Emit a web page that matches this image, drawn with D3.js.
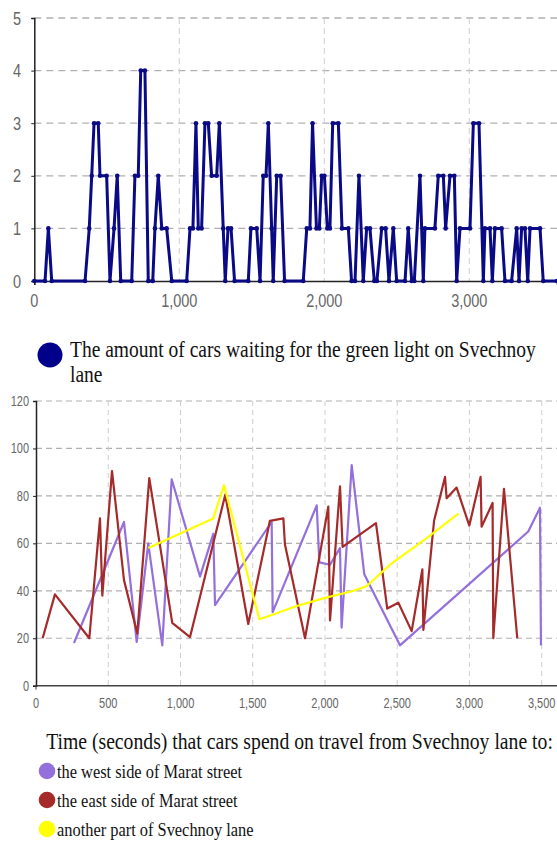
<!DOCTYPE html>
<html>
<head>
<meta charset="utf-8">
<script src="https://cdn.jsdelivr.net/npm/d3@7/dist/d3.min.js"></script>
<style>
  html, body { margin: 0; padding: 0; background: #fff; }
  svg { display: block; }
</style>
</head>
<body>
<svg id="chart" width="557" height="841"></svg>
<script>
// ---------- DATA ----------
// Top chart: cars waiting at green light (time in seconds, count)
const waitTimes  = [0, 74, 97, 120, 350, 379, 396, 412, 441, 453, 499, 522, 550, 572, 596, 672, 694, 717, 734, 763, 786, 817, 832, 855, 879, 913, 948, 1051, 1074, 1094, 1115, 1131, 1154, 1177, 1200, 1223, 1258, 1276, 1303, 1317, 1336, 1357, 1381, 1476, 1494, 1534, 1557, 1579, 1598, 1614, 1637, 1648, 1672, 1699, 1726, 1855, 1879, 1901, 1919, 1946, 1966, 1982, 2001, 2021, 2039, 2058, 2097, 2122, 2166, 2188, 2212, 2239, 2269, 2292, 2315, 2345, 2363, 2396, 2423, 2446, 2476, 2499, 2557, 2579, 2603, 2621, 2660, 2683, 2694, 2763, 2786, 2821, 2837, 2867, 2897, 2913, 2936, 3005, 3028, 3067, 3097, 3108, 3143, 3159, 3177, 3223, 3246, 3292, 3327, 3343, 3361, 3384, 3403, 3419, 3488, 3510, 3605];
const waitCounts = [0, 0, 1, 0, 0, 1, 2, 3, 3, 2, 2, 0, 1, 2, 0, 0, 2, 2, 4, 4, 0, 0, 1, 2, 1, 1, 0, 0, 1, 1, 3, 1, 1, 3, 3, 2, 2, 3, 1, 0, 1, 1, 0, 0, 1, 1, 0, 2, 2, 3, 1, 0, 2, 2, 0, 0, 1, 1, 3, 1, 1, 2, 2, 1, 1, 3, 3, 1, 1, 0, 0, 2, 0, 1, 1, 0, 0, 1, 1, 0, 1, 0, 0, 1, 0, 0, 2, 0, 1, 1, 2, 2, 1, 2, 2, 0, 1, 1, 3, 3, 0, 1, 1, 0, 1, 1, 0, 0, 1, 0, 1, 1, 0, 1, 1, 0, 0];
const waitXTicks = [0, 1000, 2000, 3000];
const waitYTicks = [0, 1, 2, 3, 4, 5];
const waitLegend = ["The amount of cars waiting for the green light on Svechnoy", "lane"];

// Bottom chart: travel time (departure time in seconds, travel time in seconds)
const westTimes  = [263, 609, 697, 777, 874, 939, 1135, 1227, 1239, 1631, 1638, 1943, 1961, 2035, 2104, 2115, 2185, 2272, 2519, 3407, 3488, 3495];
const westValues = [18, 69, 18.5, 60, 17, 87, 46, 64, 34, 69, 31, 76, 52, 51, 58, 24.5, 93, 47, 17, 65, 75, 17];
const eastTimes  = [46, 131, 369, 443, 459, 526, 609, 701, 784, 943, 1066, 1310, 1469, 1619, 1712, 1723, 1862, 2023, 2035, 2104, 2122, 2353, 2431, 2508, 2600, 2674, 2681, 2755, 2831, 2842, 2911, 2999, 3077, 3084, 3160, 3165, 3239, 3331];
const eastValues = [20, 38.5, 20, 70.5, 38, 90.5, 44.5, 22, 87.5, 26.5, 20.5, 80.5, 26, 69.5, 70.5, 59.5, 20, 75.5, 27.5, 84, 58.5, 68.5, 32.5, 35, 23, 49, 23.5, 69.5, 88, 79, 83.5, 67.5, 88, 67, 77, 20, 83, 20];
const otherTimes  = [777, 1227, 1301, 1546, 1640, 1800, 2000, 2200, 2290, 2450, 2700, 2923];
const otherValues = [58, 70.5, 84.5, 28, 30, 33.5, 37, 40, 42, 51, 62, 72.5];
const travelXTicks = [0, 500, 1000, 1500, 2000, 2500, 3000, 3500];
const travelYTicks = [0, 20, 40, 60, 80, 100, 120];
const travelTitle = "Time (seconds) that cars spend on travel from Svechnoy lane to:";
const travelSeries = [
  { name: "the west side of Marat street", times: westTimes, values: westValues, color: "#9370DB" },
  { name: "the east side of Marat street", times: eastTimes, values: eastValues, color: "#A52A2A" },
  { name: "another part of Svechnoy lane", times: otherTimes, values: otherValues, color: "#FFFF00" }
];

// ---------- DRAWING ----------
const svg = d3.select("#chart");
const fmt = d3.format(",");
const sansFont = "'Liberation Sans', Arial, sans-serif";
const serifFont = "'Liberation Serif', 'Times New Roman', serif";

function stretchedText(g, x, y, str, opts) {
  const sy = opts.sy || 1.3;
  return g.append("text")
    .attr("transform", `translate(${x},${y}) scale(1,${sy})`)
    .attr("dy", "0.35em")
    .attr("text-anchor", opts.anchor || "start")
    .attr("font-family", opts.font)
    .attr("font-size", opts.size)
    .attr("fill", opts.color || "#111")
    .text(str);
}

// ---- Top chart ----
{
  const x = d3.scaleLinear().domain([0, 3605]).range([34.3, 557]);
  const y = d3.scaleLinear().domain([0, 5]).range([281, 18]);
  const g = svg.append("g");

  g.selectAll(".hg").data(waitYTicks.slice(1)).join("line")
    .attr("x1", x(0)).attr("x2", 557)
    .attr("y1", d => y(d)).attr("y2", d => y(d))
    .attr("stroke", "#b0b0b0").attr("stroke-width", 1.3).attr("stroke-dasharray", "7,5");
  g.selectAll(".vg").data(waitXTicks.slice(1)).join("line")
    .attr("x1", d => x(d)).attr("x2", d => x(d))
    .attr("y1", y(5)).attr("y2", y(0))
    .attr("stroke", "#cfcfcf").attr("stroke-width", 1).attr("stroke-dasharray", "6,4");

  const ax = g.append("g").attr("transform", `translate(0,${y(0)})`)
    .call(d3.axisBottom(x).tickValues(waitXTicks).tickSize(4).tickFormat(""));
  ax.select(".domain").attr("stroke", "#222").attr("stroke-width", 1.5);
  ax.selectAll(".tick line").attr("stroke", d => d === 0 ? "#222" : "none");
  const ay = g.append("g").attr("transform", `translate(${x(0)},0)`)
    .call(d3.axisLeft(y).tickValues(waitYTicks).tickSize(3).tickFormat(""));
  ay.select(".domain").attr("stroke", "#222").attr("stroke-width", 1.5);
  ay.selectAll(".tick line").attr("stroke", "#222");

  waitXTicks.forEach(t => stretchedText(g, x(t), 300, fmt(t), { anchor: "middle", font: sansFont, size: 14.5, color: "#666" }));
  waitYTicks.forEach(t => stretchedText(g, 21, y(t), fmt(t), { anchor: "end", font: sansFont, size: 14.5, color: "#666" }));

  const pts = waitTimes.map((t, i) => [t, waitCounts[i]]);
  g.append("path").datum(pts)
    .attr("fill", "none").attr("stroke", "#0a0a86").attr("stroke-width", 3)
    .attr("stroke-linejoin", "round")
    .attr("d", d3.line().x(d => x(d[0])).y(d => y(d[1])));
  g.selectAll(".pt").data(pts).join("circle")
    .attr("cx", d => x(d[0])).attr("cy", d => y(d[1])).attr("r", 2.3).attr("fill", "#0a0a86");

  g.append("circle").attr("cx", 50).attr("cy", 355).attr("r", 12.5).attr("fill", "#00008B");
  stretchedText(g, 70, 349, waitLegend[0], { font: serifFont, size: 19.5, color: "#111", sy: 1.22 });
  stretchedText(g, 70, 374, waitLegend[1], { font: serifFont, size: 19.5, color: "#111", sy: 1.22 });
}

// ---- Bottom chart ----
{
  const x = d3.scaleLinear().domain([0, 3500]).range([36, 541.7]);
  const y = d3.scaleLinear().domain([0, 120]).range([685.7, 401]);
  const g = svg.append("g");

  g.selectAll(".hg").data(travelYTicks.slice(1)).join("line")
    .attr("x1", x(0)).attr("x2", 557)
    .attr("y1", d => y(d)).attr("y2", d => y(d))
    .attr("stroke", "#b0b0b0").attr("stroke-width", 1.2).attr("stroke-dasharray", "6,4");
  g.selectAll(".vg").data(travelXTicks.slice(1)).join("line")
    .attr("x1", d => x(d)).attr("x2", d => x(d))
    .attr("y1", y(120)).attr("y2", y(0))
    .attr("stroke", "#cfcfcf").attr("stroke-width", 1).attr("stroke-dasharray", "5,4");

  g.append("line").attr("x1", x(0)).attr("x2", 557).attr("y1", y(0)).attr("y2", y(0))
    .attr("stroke", "#444").attr("stroke-width", 1.5);
  const ay = g.append("g").attr("transform", `translate(${x(0)},0)`)
    .call(d3.axisLeft(y).tickValues(travelYTicks).tickSize(3).tickFormat(""));
  ay.select(".domain").attr("stroke", "#222").attr("stroke-width", 1.5);
  ay.selectAll(".tick line").attr("stroke", "#222");
  g.append("line").attr("x1", x(0)).attr("x2", x(0)).attr("y1", y(0)).attr("y2", y(0) + 4)
    .attr("stroke", "#444");

  travelXTicks.forEach(t => stretchedText(g, x(t), 703, fmt(t), { anchor: "middle", font: sansFont, size: 11, color: "#666" }));
  travelYTicks.forEach(t => stretchedText(g, 29, y(t), fmt(t), { anchor: "end", font: sansFont, size: 11, color: "#666" }));

  const line = d3.line().x(d => x(d[0])).y(d => y(d[1]));
  travelSeries.forEach(s => {
    const pts = s.times.map((t, i) => [t, s.values[i]]);
    g.append("path").datum(pts)
      .attr("fill", "none").attr("stroke", s.color).attr("stroke-width", 2.2)
      .attr("stroke-linejoin", "round")
      .attr("d", line);
  });

  stretchedText(g, 299.5, 741, travelTitle, { anchor: "middle", font: serifFont, size: 19.7, color: "#111", sy: 1.2 });
  const ly = d3.scalePoint().domain(travelSeries.map(s => s.name)).range([771, 829]);
  travelSeries.forEach(s => {
    g.append("circle").attr("cx", 47).attr("cy", ly(s.name)).attr("r", 8.3).attr("fill", s.color);
    stretchedText(g, 57, ly(s.name), s.name, { font: serifFont, size: 16.4, color: "#111", sy: 1.15 });
  });
}
</script>
</body>
</html>
